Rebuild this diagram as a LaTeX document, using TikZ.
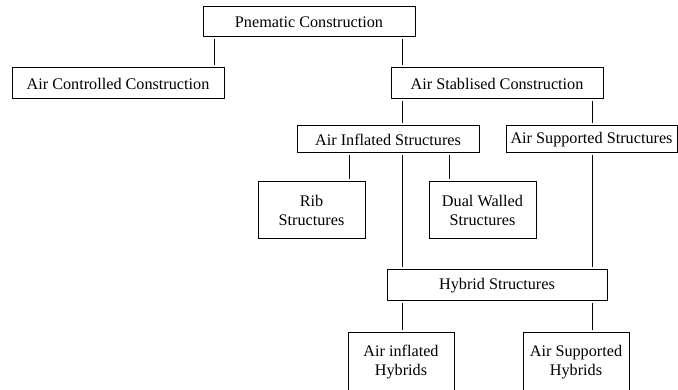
\documentclass[tikz,border=0pt]{standalone}
\usepackage{fontspec}
\setmainfont{Liberation Serif}
\usepackage{tikz}
\tikzstyle{box} = [rectangle, draw, line width=1pt, align=center, inner sep=0pt, minimum height=31pt]
\tikzstyle{tallbox} = [box, minimum width=107pt, minimum height=57pt]
\tikzstyle{link} = [draw, line width=1pt, shorten <=2pt, shorten >=2pt]

\begin{document}
\begin{tikzpicture}[x=1pt,y=-1pt,font=\fontsize{16.2}{19.4}\selectfont]
\useasboundingbox (0,0) rectangle (678,390);

% boxes, top to bottom
\node[box, minimum width=212pt, minimum height=30pt] (pc) at (309,22) {Pnematic Construction};

\node[box, minimum width=212pt] (acc) at (118,83.5) {Air Controlled Construction};
\node[box, minimum width=212pt] (asc) at (497,83.5) {Air Stablised Construction};

\node[box, minimum width=182pt, minimum height=27pt] (ais) at (388,139.5) {Air Inflated Structures};
\node[box, minimum width=171pt, minimum height=27pt] (ass) at (591.5,139.5) {Air Supported Structures};

\node[tallbox] (rib) at (311.5,210.5) {Rib\\Structures};
\node[tallbox] (dws) at (482.5,210.5) {Dual Walled\\Structures};

\node[box, minimum width=220pt] (hyb) at (497,285.5) {Hybrid Structures};

\node[tallbox, minimum width=106pt, minimum height=58pt] (aih) at (401,362) {Air inflated\\Hybrids};
\node[tallbox, minimum width=106pt, minimum height=58pt] (ash) at (576,362) {Air Supported\\Hybrids};

% x positions of the vertical links
\coordinate (xacc) at (214,0);
\coordinate (xmid) at (402,0);
\coordinate (xright) at (592.5,0);
\coordinate (xrib) at (349,0);
\coordinate (xdws) at (449,0);

\path[link] (pc.south -| xacc) -- (acc.north -| xacc);
\path[link] (pc.south -| xmid) -- (asc.north -| xmid);
\path[link] (asc.south -| xmid) -- (ais.north -| xmid);
\path[link] (asc.south -| xright) -- (ass.north -| xright);
\path[link] (ais.south -| xrib) -- (rib.north -| xrib);
\path[link] (ais.south -| xmid) -- (hyb.north -| xmid);
\path[link] (ais.south -| xdws) -- (dws.north -| xdws);
\path[link] (ass.south -| xright) -- (hyb.north -| xright);
\path[link] (hyb.south -| xmid) -- (aih.north -| xmid);
\path[link] (hyb.south -| xright) -- (ash.north -| xright);
\end{tikzpicture}
\end{document}
